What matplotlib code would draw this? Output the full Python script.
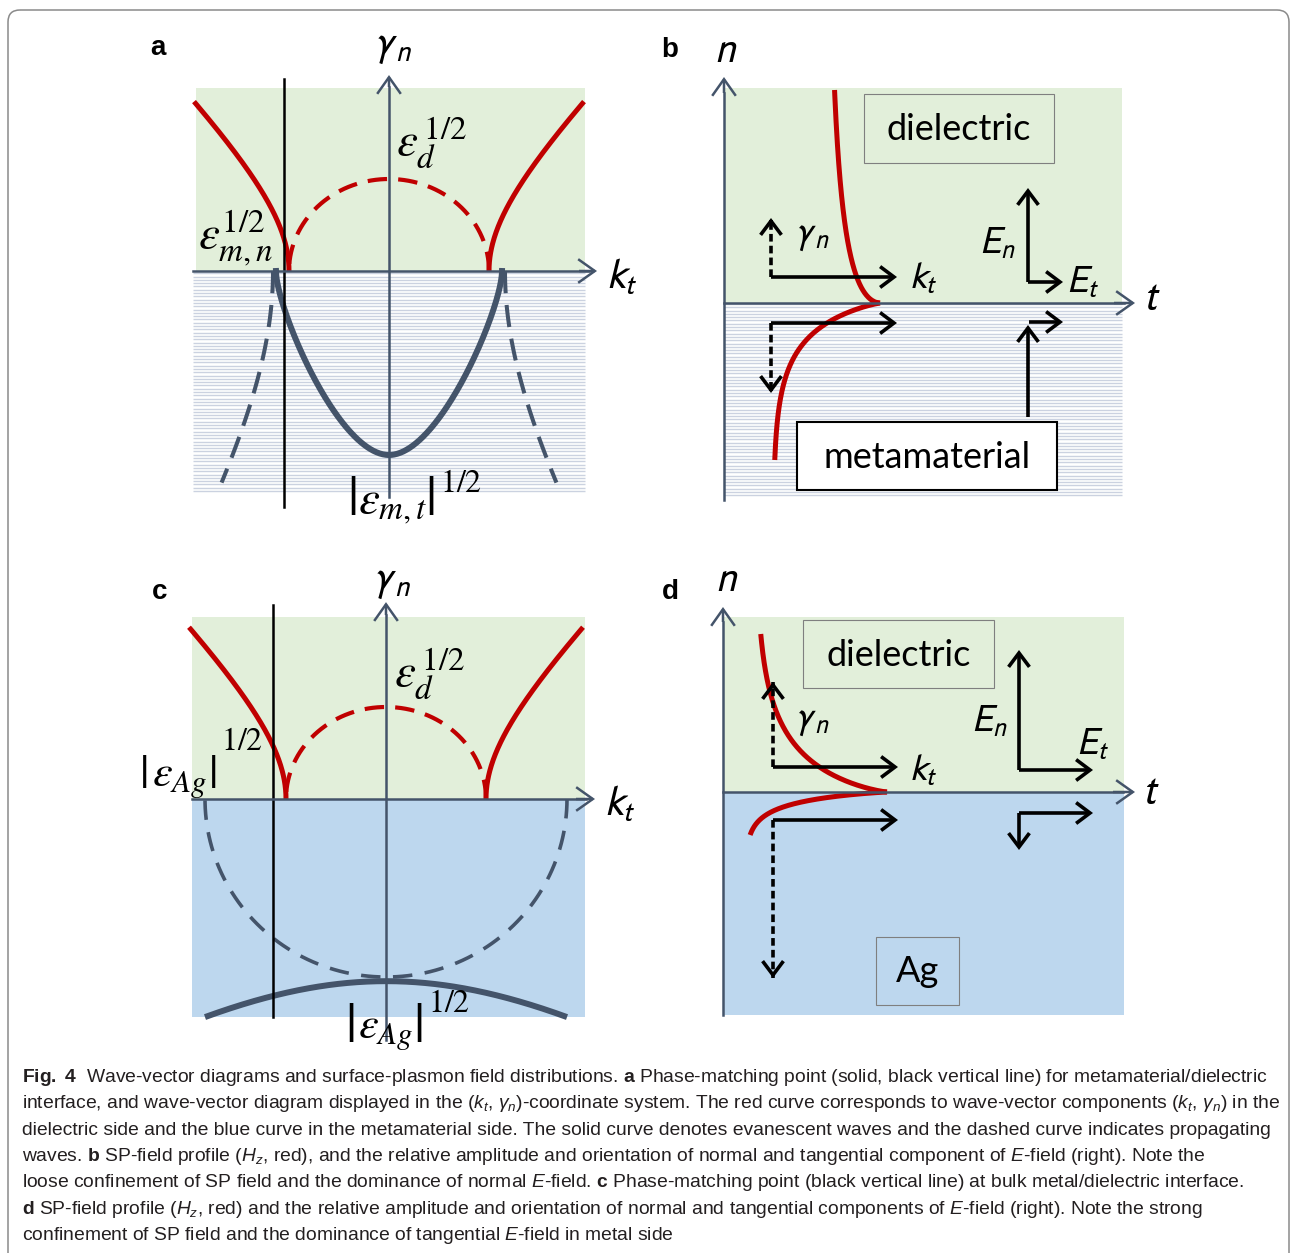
import numpy as np
import matplotlib
matplotlib.use("Agg")
import matplotlib.pyplot as plt
from matplotlib.patches import Rectangle, FancyBboxPatch, FancyArrowPatch, ArrowStyle
from matplotlib import font_manager

W, H, DPI = 1292, 1253, 100

# ---------------------------------------------------------------- colours
GREEN = "#E2EFDA"
BLUE = "#BDD7EE"
HATCH = "#CBD2E0"
SLATE = "#44546A"
RED = "#C00000"
INK = "#000000"
TEXT = "#231F20"

# ------------------------------------------- wave-vector diagrams (a, c)
# units: kt and gamma_n scaled so that sqrt(eps_d) = 1
EPS_D_ROOT = 1.0
RED_STRETCH = 1.1                 # vertical stretch of the evanescent red branches
RED_KT_MAX = [1.95, 1.97]         # outer end of the red branches in a and c
PHASE_KT = [-1.05, -1.13]         # phase-matching line in a and c

# metamaterial (a)
MM_KT_ROOT = 1.13                 # sqrt(eps_m,n)
MM_GAMMA_ROOT = 2.0               # sqrt(|eps_m,t|)
MM_BEZIER = (0.20, 0.45)          # control handles of the evanescent contour
MM_PROP_KT0 = 1.16
MM_PROP_C = 2.21
MM_PROP_DEPTH = 2.3

# silver (c)
AG_KT_ROOT = 1.81
AG_GAMMA_ROOT = 1.935
AG_EVAN_TOP = 1.98
AG_EVAN_C = 2.75

# ------------------------------------------------ field profiles (b, d)
# H_z profile: t = base + amp * exp(-(|n| / decay) ** shape)
PROFILE_B = {"upper": (1.01, 0.55, 0.77, 0.55, 2.13),
             "lower": (0.49, 1.07, 0.31, 0.87, 1.57)}
PROFILE_D = {"upper": (0.32, 1.32, 0.379, 0.80, 1.58),
             "lower": (0.22, 1.42, 0.11, 0.88, 0.43)}

# wave-vector arrows: (start t, n level, kt length, gamma length)
WAVE_B = {"upper": (0.47, 0.26, 1.26, 0.59), "lower": (0.47, -0.20, 1.26, -0.70)}
WAVE_D = {"upper": (0.50, 0.25, 1.25, 0.85), "lower": (0.50, -0.28, 1.25, -1.58)}

# E-field components: (corner t, corner n, E_t, E_n)
EFIELD_B = {"upper": (3.04, 0.21, 0.35, 0.94), "lower": (3.04, -1.14, 0.35, 0.92)}
EFIELD_D = {"upper": (2.96, 0.22, 0.74, 1.20), "lower": (2.96, -0.21, 0.74, -0.37)}

# ------------------------------------------------------------------ fonts
plt.rcParams["mathtext.fontset"] = "stix"
plt.rcParams["lines.scale_dashes"] = False
available = {f.name for f in font_manager.fontManager.ttflist}
CAPTION_FONT = "Liberation Sans Narrow" if "Liberation Sans Narrow" in available else "Liberation Sans"
LABEL_FONT = "Lato" if "Lato" in available else "DejaVu Sans"
plt.rcParams["mathtext.rm"] = CAPTION_FONT
plt.rcParams["mathtext.it"] = CAPTION_FONT + ":italic"
plt.rcParams["mathtext.bf"] = CAPTION_FONT + ":bold"

fig = plt.figure(figsize=(W / DPI, H / DPI), dpi=DPI)
fig.patch.set_facecolor("white")


def panel_axes(origin, scale):
    """Full-figure transparent axes with its own origin/scale in pixels."""
    x0, y0 = origin
    sx, sy = scale
    ax = fig.add_axes([0, 0, 1, 1])
    ax.set_xlim(-x0 / sx, (W - x0) / sx)
    ax.set_ylim((y0 - H) / sy, y0 / sy)
    ax.axis("off")
    return ax


def arrow(ax, p0, p1, color=INK, lw=2.6, hl=10.0, hw=7.5, dashed=False, z=6):
    style = ArrowStyle("->", head_length=hl, head_width=hw)
    if dashed:
        ax.plot([p0[0], p1[0]], [p0[1], p1[1]], color=color, lw=lw,
                dashes=(5.5, 3.0), solid_capstyle="butt", zorder=z)
        d = np.subtract(p1, p0)
        d = d / np.hypot(*d) * 0.03
        p0 = (p1[0] - d[0], p1[1] - d[1])
    ax.add_patch(FancyArrowPatch(p0, p1, arrowstyle=style, mutation_scale=1,
                                 lw=lw, color=color, shrinkA=0, shrinkB=0,
                                 joinstyle="miter", capstyle="butt", zorder=z))


def axis_arrow(ax, p0, p1):
    arrow(ax, p0, p1, color=SLATE, lw=1.8, hl=12, hw=8.5, z=4)


def hatch(ax, x0, x1, y0, y1, step):
    ys = np.arange(y0 + step / 2, y1, step)
    ax.hlines(ys, x0, x1, colors=HATCH, lw=1.0, zorder=1)


def red_branches(ax, kt_max):
    u = np.linspace(0, np.arccosh(kt_max / EPS_D_ROOT), 200)
    kt = EPS_D_ROOT * np.cosh(u)
    g = RED_STRETCH * EPS_D_ROOT * np.sinh(u)
    for s in (-1, 1):
        ax.plot(s * kt, g, color=RED, lw=3.6, solid_capstyle="butt", zorder=3)
    th = np.linspace(0, np.pi, 200)
    ax.plot(EPS_D_ROOT * np.cos(th), EPS_D_ROOT * np.sin(th), color=RED, lw=3.0,
            dashes=(14, 8), zorder=3)


def bezier_quarter(a, b, k1, k2, n=150):
    """Quarter contour from (a, 0) down to (0, -b), vertical at top, flat at bottom."""
    t = np.linspace(0, 1, n)[:, None]
    P = np.array([[a, 0], [a, -k1 * b], [k2 * a, -b], [0, -b]])
    B = ((1 - t) ** 3) * P[0] + 3 * ((1 - t) ** 2) * t * P[1] \
        + 3 * (1 - t) * t ** 2 * P[2] + t ** 3 * P[3]
    return B[:, 0], B[:, 1]


def profile(ax, params, sign):
    base, amp, decay, shape, extent = params
    n = np.linspace(0, extent, 300)
    t = base + amp * np.exp(-(n / decay) ** shape)
    ax.plot(t, sign * n, color=RED, lw=3.6, solid_capstyle="butt", zorder=3)


def wave_arrows(ax, spec):
    t0, n0, kt, gam = spec
    arrow(ax, (t0, n0), (t0 + kt, n0))
    arrow(ax, (t0, n0), (t0, n0 + gam), dashed=True)


def field_arrows(ax, spec):
    t0, n0, et, en = spec
    if en > 0 and n0 < 0:
        # vertical arrow rising from below, tangential arrow at its tip
        arrow(ax, (t0, n0), (t0, n0 + en))
        arrow(ax, (t0 + 0.01, n0 + en + 0.03), (t0 + et, n0 + en + 0.03))
    else:
        arrow(ax, (t0, n0), (t0, n0 + en))
        arrow(ax, (t0, n0), (t0 + et, n0))


# ===================================================================== a
axa = panel_axes((389, 271), (100, 92))
axa.add_patch(Rectangle((-1.93, 0), 3.89, 1.99, color=GREEN, lw=0, zorder=0))
hatch(axa, -1.96, 1.96, -2.41, 0, 3.3 / 92)
red_branches(axa, RED_KT_MAX[0])
qx, qy = bezier_quarter(MM_KT_ROOT, MM_GAMMA_ROOT, *MM_BEZIER)
axa.plot(np.concatenate([-qx, qx[::-1]]), np.concatenate([qy, qy[::-1]]),
         color=SLATE, lw=4.3, zorder=3)
gp = np.linspace(0, -MM_PROP_DEPTH, 100)
for s in (-1, 1):
    axa.plot(s * MM_PROP_KT0 * np.sqrt(1 + (gp / MM_PROP_C) ** 2), gp,
             color=SLATE, lw=2.9, dashes=(16, 8.5), zorder=3)
axa.plot([PHASE_KT[0]] * 2, [-2.57, 2.09], color=INK, lw=1.8, zorder=4)
axa.plot([-1.96, 2.0], [0, 0], color=SLATE, lw=1.8, zorder=4)
axis_arrow(axa, (1.9, 0), (2.08, 0))
axa.plot([0, 0], [-2.46, 2.0], color=SLATE, lw=1.8, zorder=4)
axis_arrow(axa, (0, 2.0), (0, 2.13))

# ===================================================================== b
axb = panel_axes((724, 303), (100, 100))
axb.add_patch(Rectangle((0, 0), 3.98, 2.15, color=GREEN, lw=0, zorder=0))
hatch(axb, 0, 3.98, -1.94, 0, 0.033)
profile(axb, PROFILE_B["upper"], 1)
profile(axb, PROFILE_B["lower"], -1)
wave_arrows(axb, WAVE_B["upper"])
wave_arrows(axb, WAVE_B["lower"])
field_arrows(axb, EFIELD_B["upper"])
field_arrows(axb, EFIELD_B["lower"])
axb.plot([0, 4.0], [0, 0], color=SLATE, lw=1.8, zorder=4)
axis_arrow(axb, (3.9, 0), (4.11, 0))
axb.plot([0, 0], [-1.97, 2.1], color=SLATE, lw=1.8, zorder=4)
axis_arrow(axb, (0, 2.1), (0, 2.26))

# ===================================================================== c
axc = panel_axes((386, 799), (100, 92))
axc.add_patch(Rectangle((-1.94, 0), 3.93, 1.98, color=GREEN, lw=0, zorder=0))
axc.add_patch(Rectangle((-1.94, -2.37), 3.93, 2.37, color=BLUE, lw=0, zorder=0))
red_branches(axc, RED_KT_MAX[1])
th = np.linspace(0, np.pi, 300)
axc.plot(AG_KT_ROOT * np.cos(th), -AG_GAMMA_ROOT * np.sin(th),
         color=SLATE, lw=2.6, dashes=(14, 9), zorder=3)
kt = np.linspace(-AG_KT_ROOT, AG_KT_ROOT, 300)
axc.plot(kt, -AG_EVAN_TOP * np.sqrt(1 + (kt / AG_EVAN_C) ** 2),
         color=SLATE, lw=4.3, solid_capstyle="butt", zorder=3)
axc.plot([PHASE_KT[1]] * 2, [-2.37, 2.11], color=INK, lw=1.8, zorder=4)
axc.plot([-1.94, 2.0], [0, 0], color=SLATE, lw=1.8, zorder=4)
axis_arrow(axc, (1.9, 0), (2.09, 0))
axc.plot([0, 0], [-2.62, 2.0], color=SLATE, lw=1.8, zorder=4)
axis_arrow(axc, (0, 2.0), (0, 2.14))

# ===================================================================== d
axd = panel_axes((723, 792), (100, 100))
axd.add_patch(Rectangle((0, 0), 4.01, 1.75, color=GREEN, lw=0, zorder=0))
axd.add_patch(Rectangle((0, -2.23), 4.01, 2.23, color=BLUE, lw=0, zorder=0))
profile(axd, PROFILE_D["upper"], 1)
profile(axd, PROFILE_D["lower"], -1)
wave_arrows(axd, WAVE_D["upper"])
wave_arrows(axd, WAVE_D["lower"])
field_arrows(axd, EFIELD_D["upper"])
field_arrows(axd, EFIELD_D["lower"])
axd.plot([0, 4.0], [0, 0], color=SLATE, lw=1.8, zorder=4)
axis_arrow(axd, (3.9, 0), (4.12, 0))
axd.plot([0, 0], [-2.23, 1.7], color=SLATE, lw=1.8, zorder=4)
axis_arrow(axd, (0, 1.7), (0, 1.85))

# ============================================= labels, boxes and caption
cv = fig.add_axes([0, 0, 1, 1])
cv.set_xlim(0, W)
cv.set_ylim(H, 0)
cv.axis("off")

cv.add_patch(FancyBboxPatch((8, 10), 1281, 1270,
                            boxstyle="round,pad=0,rounding_size=12",
                            fc="none", ec="#8A8A8A", lw=1.1))


def lab(x, y, s, size=24, mf="stix", **kw):
    cv.text(x, y, s, fontsize=size, ha="center", va="center", color=INK,
            math_fontfamily=mf, **kw)


def sym(x, y, s, size=26):
    # sans-serif italic symbols (axis names, wave-vector and field components)
    lab(x, y, s, size, mf="stixsans")


def letter(x, y, s):
    cv.text(x, y, s, fontsize=20, fontweight="bold", family="Liberation Sans",
            ha="center", va="center", color=INK)


def box(x0, y0, x1, y1, text, fc="none", ec="#7F7F7F", lw=0.8):
    cv.add_patch(Rectangle((x0, y0), x1 - x0, y1 - y0, fc=fc, ec=ec, lw=lw, zorder=5))
    cv.text((x0 + x1) / 2, (y0 + y1) / 2 + 1, text, fontsize=26, family=LABEL_FONT,
            ha="center", va="center", color=INK, zorder=6)


def abs_root(xl, xr, y, body, size, bar_size, sup_xy):
    lab(xl, y, r"$|$", bar_size)
    lab((xl + xr) / 2 + 2, y + 3, body, size)
    lab(xr, y, r"$|$", bar_size)
    lab(sup_xy[0], sup_xy[1], r"$\mathrm{1/2}$", 23)


# a
letter(158, 48, "a")
sym(393, 45, r"$\gamma_n$", 30)
lab(432, 142, r"$\varepsilon_d^{\,\mathrm{1/2}}$", 34)
lab(236, 238, r"$\varepsilon_{m,n}^{\mathrm{1/2}}$", 34)
abs_root(352, 430, 500, r"$\varepsilon_{m,t}$", 34, 40, (461, 484))
sym(622, 276, r"$k_t$", 30)

# b
letter(670, 50, "b")
sym(726, 50, r"$n$", 30)
sym(1152, 298, r"$t$", 30)
box(864, 94, 1054, 163, "dielectric")
box(797, 422, 1057, 490, "metamaterial", fc="white", ec=INK, lw=1.5)
sym(812, 235, r"$\gamma_n$", 27)
sym(923, 279, r"$k_t$", 27)
sym(998, 244, r"$E_n$", 27)
sym(1083, 283, r"$E_t$", 27)

# c
letter(160, 592, "c")
sym(392, 580, r"$\gamma_n$", 30)
lab(430, 673, r"$\varepsilon_d^{\,\mathrm{1/2}}$", 34)
abs_root(143, 212, 775, r"$\varepsilon_{Ag}$", 32, 34, (242, 742))
abs_root(350, 418, 1027, r"$\varepsilon_{Ag}$", 32, 40, (449, 1004))
sym(620, 803, r"$k_t$", 30)

# d
letter(670, 592, "d")
sym(727, 579, r"$n$", 30)
sym(1151, 792, r"$t$", 30)
box(803, 620, 994, 688, "dielectric")
box(876, 937, 959, 1005, "Ag", fc=BLUE)
sym(812, 720, r"$\gamma_n$", 27)
sym(923, 771, r"$k_t$", 27)
sym(990, 722, r"$E_n$", 27)
sym(1093, 745, r"$E_t$", 27)

caption = [
    r"$\mathbf{Fig.\ 4}$  Wave-vector diagrams and surface-plasmon field distributions. $\mathbf{a}$ Phase-matching point (solid, black vertical line) for metamaterial/dielectric",
    r"interface, and wave-vector diagram displayed in the ($k_t$, $\gamma_n$)-coordinate system. The red curve corresponds to wave-vector components ($k_t$, $\gamma_n$) in the",
    r"dielectric side and the blue curve in the metamaterial side. The solid curve denotes evanescent waves and the dashed curve indicates propagating",
    r"waves. $\mathbf{b}$ SP-field profile ($H_z$, red), and the relative amplitude and orientation of normal and tangential component of $E$-field (right). Note the",
    r"loose confinement of SP field and the dominance of normal $E$-field. $\mathbf{c}$ Phase-matching point (black vertical line) at bulk metal/dielectric interface.",
    r"$\mathbf{d}$ SP-field profile ($H_z$, red) and the relative amplitude and orientation of normal and tangential components of $E$-field (right). Note the strong",
    r"confinement of SP field and the dominance of tangential $E$-field in metal side",
]
cap_texts = []
for i, line in enumerate(caption):
    t = cv.text(22, 1082 + i * 26.3, line, fontsize=13, family=CAPTION_FONT,
                math_fontfamily="custom", ha="left", va="baseline", color=TEXT)
    cap_texts.append(t)

# size the caption so that its first line spans the text block width
renderer = fig.canvas.get_renderer()
w0 = cap_texts[0].get_window_extent(renderer).width
scale = 1243.0 / w0
for t in cap_texts:
    t.set_fontsize(13 * scale)

fig.savefig("out.png", dpi=DPI, facecolor="white")
